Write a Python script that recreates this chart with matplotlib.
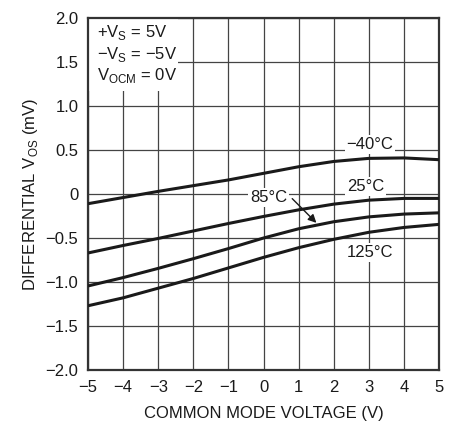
import matplotlib
matplotlib.use("Agg")
import matplotlib.pyplot as plt
from matplotlib import font_manager

names = {f.name for f in font_manager.fontManager.ttflist}
fam = "Liberation Sans Narrow" if "Liberation Sans Narrow" in names else "Liberation Sans"
plt.rcParams['font.family'] = [fam, 'DejaVu Sans']
plt.rcParams['mathtext.fontset'] = 'custom'
plt.rcParams['mathtext.rm'] = fam

vcm = [-5, -4, -3, -2, -1, 0, 1, 2, 3, 4, 5]
vos_m40 = [-0.11, -0.04, 0.03, 0.095, 0.16, 0.235, 0.31, 0.37, 0.405, 0.41, 0.39]
vos_25 = [-0.67, -0.585, -0.505, -0.42, -0.335, -0.255, -0.18, -0.115, -0.07, -0.05, -0.05]
vos_85 = [-1.045, -0.95, -0.845, -0.735, -0.62, -0.50, -0.395, -0.315, -0.26, -0.228, -0.214]
vos_125 = [-1.27, -1.18, -1.07, -0.96, -0.84, -0.72, -0.61, -0.515, -0.435, -0.38, -0.345]

xticks = [-5, -4, -3, -2, -1, 0, 1, 2, 3, 4, 5]
xticklabels = ['\u22125', '\u22124', '\u22123', '\u22122', '\u22121', '0', '1', '2', '3', '4', '5']
yticks = [-2.0, -1.5, -1.0, -0.5, 0, 0.5, 1.0, 1.5, 2.0]
yticklabels = ['\u22122.0', '\u22121.5', '\u22121.0', '\u22120.5', '0', '0.5', '1.0', '1.5', '2.0']

fig = plt.figure(figsize=(4.49, 4.23), dpi=100)
ax = fig.add_axes([0.196, 0.1253, 0.782, 0.8321])

for ys in (vos_m40, vos_25, vos_85, vos_125):
    ax.plot(vcm, ys, color='#1a1a1a', lw=2.2, solid_capstyle='butt', solid_joinstyle='round', zorder=3)

ax.set_xlim(-5, 5)
ax.set_ylim(-2, 2)
ax.set_xticks(xticks)
ax.set_xticklabels(xticklabels)
ax.set_yticks(yticks)
ax.set_yticklabels(yticklabels)
ax.grid(True, color='#444444', lw=0.9, zorder=1)
ax.tick_params(length=0, labelsize=12, pad=7, colors='#1a1a1a')
for s in ax.spines.values():
    s.set_color('#333333')
    s.set_linewidth(1.6)

ax.set_xlabel('COMMON MODE VOLTAGE (V)', fontsize=12, color='#1a1a1a', labelpad=8)
ax.set_ylabel('DIFFERENTIAL V$_\\mathregular{OS}$ (mV)', fontsize=12, color='#1a1a1a', labelpad=4)

box = dict(facecolor='white', edgecolor='none', pad=1.5)
ax.text(3.03, 0.565, '\u221240\u00b0C', fontsize=12, ha='center', va='center', bbox=box, zorder=4, color='#1a1a1a')
ax.text(2.9, 0.09, '25\u00b0C', fontsize=12, ha='center', va='center', bbox=box, zorder=4, color='#1a1a1a')
ax.text(0.14, -0.04, '85\u00b0C', fontsize=12, ha='center', va='center', bbox=box, zorder=4, color='#1a1a1a')
ax.text(3.03, -0.667, '125\u00b0C', fontsize=12, ha='center', va='center', bbox=box, zorder=4, color='#1a1a1a')
ax.annotate('', xy=(1.56, -0.35), xytext=(0.76, -0.03),
            arrowprops=dict(arrowstyle='-|>', color='#1a1a1a', lw=1.0, mutation_scale=12), zorder=5)

ax.fill_between([-5, -2.45], 1.17, 2, color='white', zorder=2, lw=0)
ax.text(-4.75, 1.83, '+V$_\\mathregular{S}$ = 5V', fontsize=12, ha='left', va='center', zorder=4, color='#1a1a1a')
ax.text(-4.75, 1.58, '\u2212V$_\\mathregular{S}$ = \u22125V', fontsize=12, ha='left', va='center', zorder=4, color='#1a1a1a')
ax.text(-4.75, 1.35, 'V$_\\mathregular{OCM}$ = 0V', fontsize=12, ha='left', va='center', zorder=4, color='#1a1a1a')

fig.savefig('out.png', dpi=100)
